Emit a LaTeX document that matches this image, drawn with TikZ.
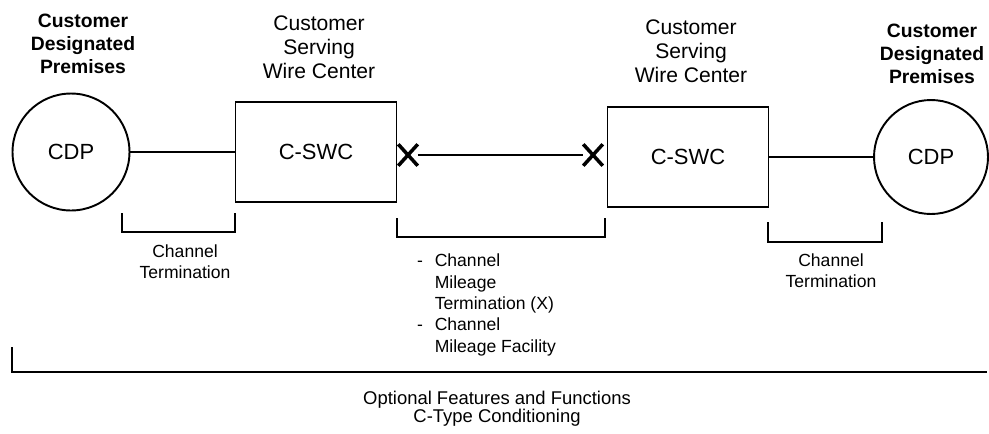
\documentclass[tikz,border=0pt]{standalone}
\usepackage{fontspec}
\setmainfont{Liberation Sans}
\usetikzlibrary{shapes.misc}

\begin{document}
\begin{tikzpicture}[x=0.02cm,y=-0.02cm,
  site/.style={circle,draw,line width=1.1pt,minimum size=2.34cm,inner sep=0pt,font=\fontsize{12.5}{15}\selectfont},
  swc/.style={rectangle,draw,line width=1.1pt,minimum width=3.22cm,minimum height=2.0cm,font=\fontsize{12.5}{15}\selectfont},
  xmark/.style={cross out,draw,line width=2pt,minimum width=0.32cm,minimum height=0.36cm,inner sep=0pt},
  wire/.style={line width=1.1pt},
  brk/.style={line width=1.1pt},
  prem/.style={align=center,font=\fontsize{11}{13.2}\selectfont\bfseries},
  wclab/.style={align=center,font=\fontsize{12}{13.8}\selectfont},
  small/.style={align=center,font=\fontsize{10}{12}\selectfont}]
\useasboundingbox (0,0) rectangle (989,433);

\node[site] (cdpl) at (71,152) {CDP};
\node[site,minimum size=2.28cm] (cdpr) at (931,157) {CDP};
\node[swc] (swcl) at (316,152) {C-SWC};
\node[swc] (swcr) at (688,157) {C-SWC};
\node[xmark] (xl) at (408,155) {};
\node[xmark] (xr) at (593,155) {};

\draw[wire] (cdpl) -- (swcl);
\draw[wire] (xl) -- (xr);
\draw[wire] (swcr) -- (cdpr);

\node[prem] (preml) at (83,44) {Customer\\Designated\\Premises};
\node[prem] (premr) at (932,54) {Customer\\Designated\\Premises};
\node[wclab] (wcl) at (319,47) {Customer\\Serving\\Wire Center};
\node[wclab] (wcr) at (691,51) {Customer\\Serving\\Wire Center};

\draw[brk] (122,213) |- (235,232) -- (235,213);
\draw[brk] (397,218) |- (605,237) -- (605,218);
\draw[brk] (768,222) |- (882,242) -- (882,222);
\draw[brk] (12,347) |- (987,372);

\node[small] (ctl) at (185,262) {Channel\\Termination};
\node[small] (ctr) at (831,271) {Channel\\Termination};
\node[small,align=left,anchor=west,font=\fontsize{10}{12.2}\selectfont] (cml) at (411,305)
  {\makebox[10pt][l]{-}Channel\\\hspace*{10pt}Mileage\\\hspace*{10pt}Termination (X)\\\makebox[10pt][l]{-}Channel\\\hspace*{10pt}Mileage Facility};
\node[small,font=\fontsize{10.5}{10.3}\selectfont] (opt) at (497,409) {Optional Features and Functions\\C-Type Conditioning};
\end{tikzpicture}
\end{document}
